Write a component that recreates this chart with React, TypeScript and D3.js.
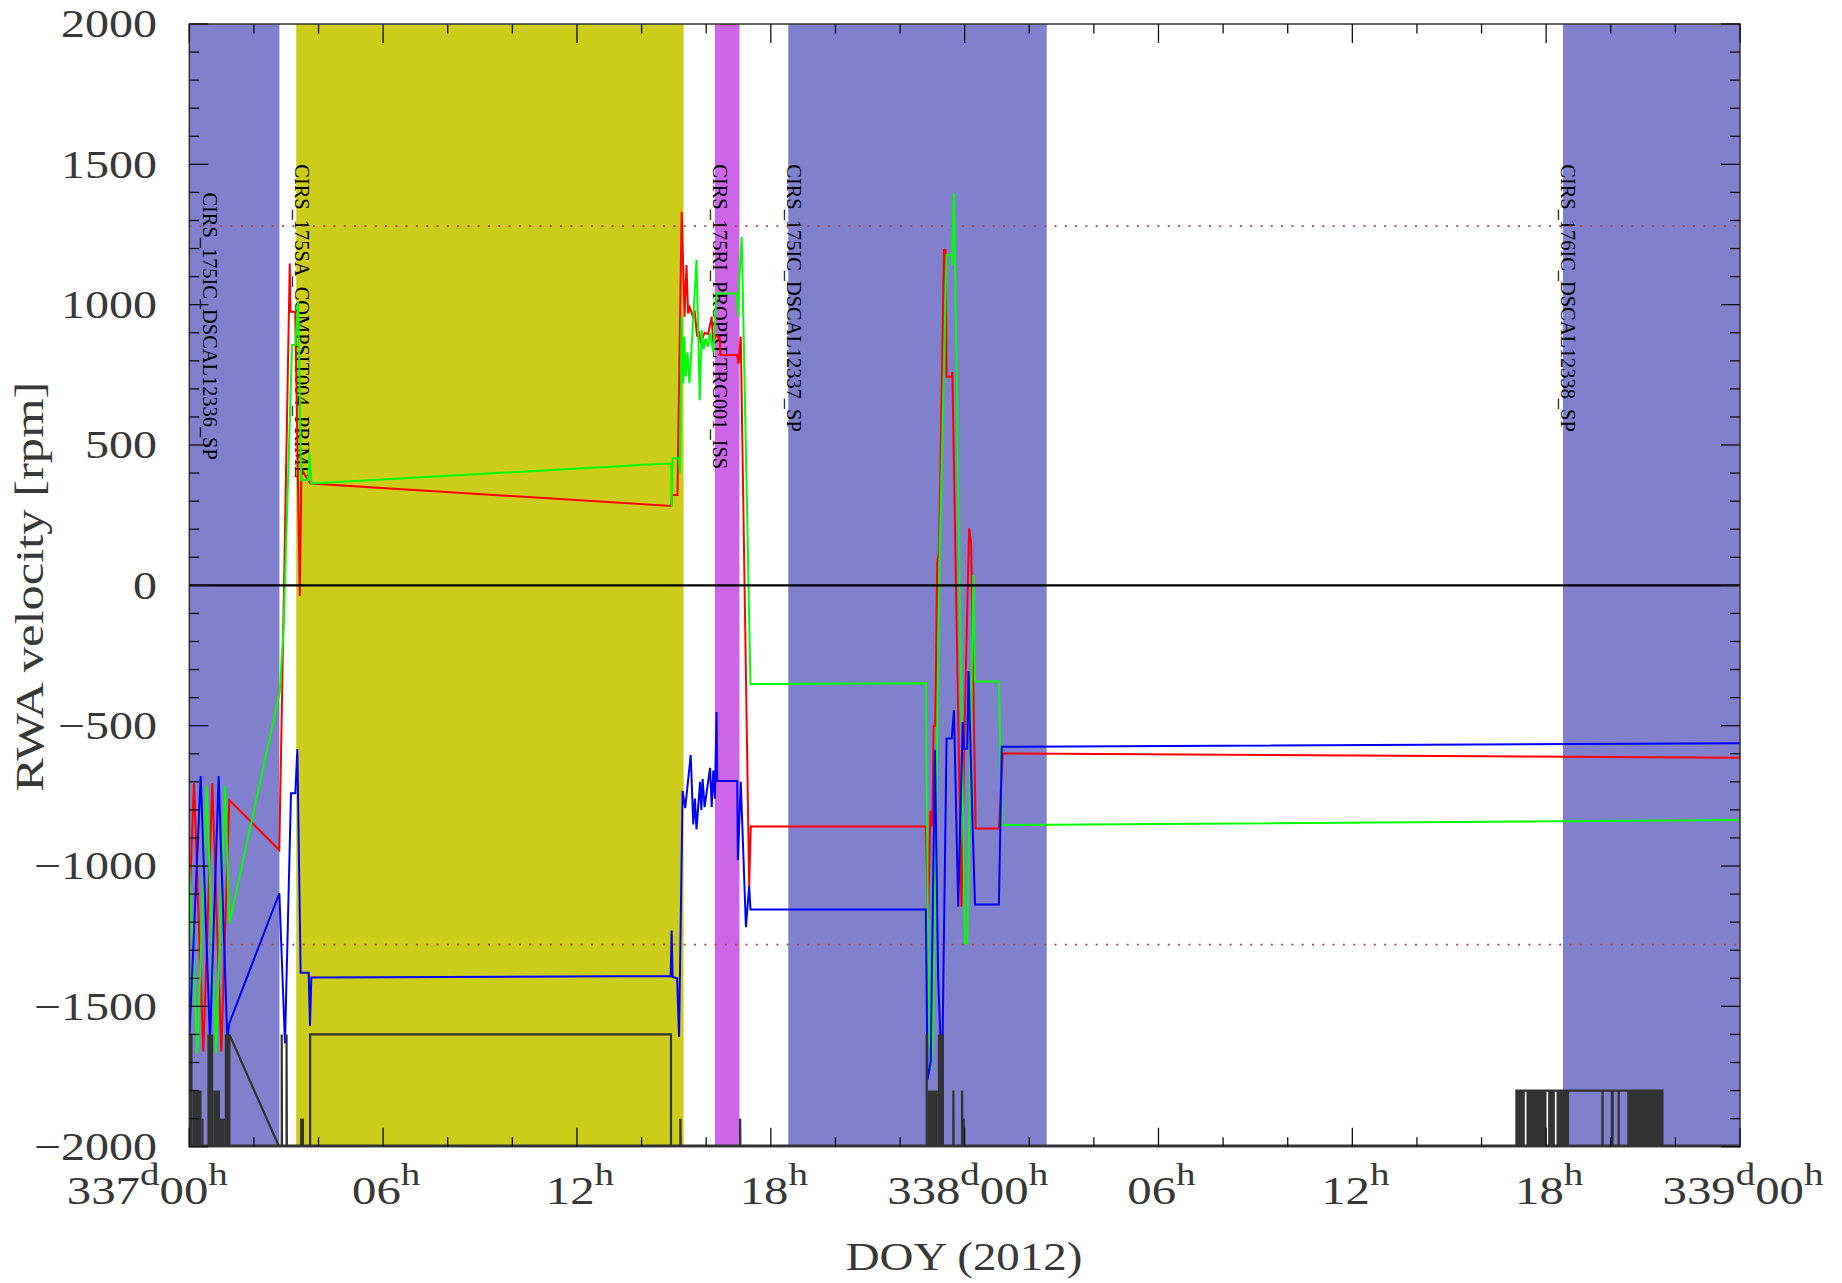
import React from 'react';
import * as d3 from 'd3';

// ---------------- data ----------------
const startDay = 337;
const hourDomain: [number, number] = [0, 48];
const velDomain: [number, number] = [-2000, 2000];
const yTickValues = [2000, 1500, 1000, 500, 0, -500, -1000, -1500, -2000];
const xTickHours = [0, 6, 12, 18, 24, 30, 36, 42, 48];
const limitLines = [1280, -1280];

const activityNames = [
  'CIRS_175IC_DSCAL12336_SP',
  'CIRS_175SA_COMPSIT004_PRIME',
  'CIRS_175RI_PROPRETRG001_ISS',
  'CIRS_175IC_DSCAL12337_SP',
  'CIRS_176IC_DSCAL12338_SP',
];
const activityStart = [-1, 3.31, 16.27, 18.54, 42.52];
const activityEnd = [2.79, 15.3, 17.03, 26.54, 49];
const activityLabelHour = [0.48, 3.31, 16.27, 18.54, 42.52];
const activityLabelVel = [1400, 1500, 1500, 1500, 1500];

const rwaRed: [number, number][] = [
  [0, -1150], [0.145, -705], [0.433, -1662], [0.712, -705], [0.99, -1662], [1.238, -765],
  [2.786, -943], [3.11, 1147], [3.13, 975], [3.28, 975], [3.42, -38], [3.47, 410], [3.55, 400],
  [3.62, 385], [3.75, 363], [14.92, 283], [14.94, 322], [15.11, 322], [15.24, 1331], [15.33, 957],
  [15.39, 1141], [15.44, 969], [15.49, 990], [15.58, 960], [15.64, 980], [15.72, 886], [15.78, 905],
  [15.83, 862], [15.95, 900], [16.06, 895], [16.17, 957], [16.21, 874], [16.31, 890], [16.42, 880],
  [16.44, 821], [16.96, 821], [17.0, 790], [17.07, 886], [17.33, -1071], [17.38, -859], [22.8, -859],
  [22.87, -1190], [22.94, -803], [23.0, -860], [23.04, -500], [23.09, -500], [23.15, 79], [23.21, 126],
  [23.36, 1195], [23.41, 1195], [23.44, 743], [23.6, 743], [23.62, 760], [23.9, -1145], [24.0, -492],
  [24.14, 203], [24.2, 150], [24.34, -866], [25.06, -866], [25.18, -599], [48, -614],
];

const rwaGreen: [number, number][] = [
  [0, -1000], [0.248, -1667], [0.538, -715], [0.826, -1667], [1.105, -715], [1.24, -1204],
  [2.8, -380], [2.92, -150], [3.18, 856], [3.28, 856], [3.37, 1011], [3.46, 375], [3.68, 375],
  [3.72, 470], [3.78, 363], [14.92, 435], [14.93, 280], [14.96, 453], [15.15, 453], [15.19, 399],
  [15.24, 957], [15.29, 720], [15.32, 886], [15.37, 743], [15.42, 830], [15.48, 720], [15.55, 850],
  [15.7, 1159], [15.8, 660], [15.86, 909], [15.92, 840], [15.98, 880], [16.05, 850], [16.12, 900],
  [16.22, 830], [16.32, 1040], [16.94, 1040], [16.99, 957], [17.02, 1080], [17.1, 1242], [17.37, -352],
  [22.8, -349], [22.87, -1300], [22.95, -1727], [23.02, -1600], [23.23, 126], [23.44, 1177],
  [23.6, 1177], [23.61, 1141], [23.67, 1397], [23.83, 126], [24.01, -1275], [24.08, -1275],
  [24.27, 37], [24.32, -343], [25.06, -343], [25.15, -854], [48, -836],
];

const rwaBlue: [number, number][] = [
  [0, -1620], [0.352, -679], [0.641, -1620], [0.909, -679], [1.177, -1620], [1.239, -1560],
  [2.787, -1097], [2.962, -1632], [3.148, -741], [3.282, -741], [3.344, -584], [3.447, -1380],
  [3.695, -1380], [3.736, -1570], [3.777, -1397], [14.9, -1392], [14.93, -1230], [14.96, -1395],
  [15.1, -1400], [15.16, -1608], [15.27, -732], [15.35, -794], [15.52, -605], [15.6, -852],
  [15.65, -760], [15.7, -870], [15.81, -700], [15.85, -800], [15.89, -690], [15.95, -790],
  [16.12, -650], [16.17, -790], [16.22, -660], [16.27, -760], [16.32, -451], [16.34, -697],
  [16.96, -697], [16.98, -979], [17.07, -700], [17.23, -1218], [17.33, -1071], [17.37, -1155],
  [22.8, -1155], [22.85, -1762], [22.95, -1700], [23.08, -587], [23.18, -1400], [23.3, -1762],
  [23.44, -546], [23.6, -546], [23.67, -445], [23.8, -1145], [23.94, -487], [23.98, -582],
  [24.08, -582], [24.12, -306], [24.23, -788], [24.32, -1137], [25.06, -1137], [25.15, -575],
  [48, -563],
];

// dark "mode" trace near the bottom
const modeTrace: [number, number][] = [
  [1.24, -2000], [1.24, -1600], [2.78, -2000], [2.86, -2000], [2.86, -1600], [2.87, -2000],
  [3.01, -2000], [3.01, -1600], [3.02, -2000], [3.74, -2000], [3.74, -1600], [14.91, -1600],
  [14.91, -2000], [15.2, -2000], [15.2, -1900], [15.21, -2000], [17.05, -2000], [17.05, -1900],
  [17.06, -2000], [23.65, -2000], [23.65, -1800], [23.66, -2000], [23.92, -2000], [23.92, -1800],
  [23.93, -2000], [23.97, -2000], [23.97, -1900], [23.98, -2000], [41.08, -2000], [41.08, -1800],
  [45.6, -1800], [45.6, -2000], [48, -2000],
];
// dense toggling intervals of the same trace: [from, to, level]
const modeBursts: [number, number, number][] = [
  [0.0, 0.1, -1600], [0.1, 0.38, -1800], [0.38, 0.44, -1900], [0.56, 0.74, -1600],
  [0.74, 0.95, -1800], [0.95, 1.1, -1900], [1.1, 1.26, -1600], [3.43, 3.55, -1900],
  [22.79, 22.86, -1600], [22.86, 23.17, -1800], [23.17, 23.36, -1600],
  [41.08, 41.34, -1800], [41.39, 42.01, -1800], [42.06, 42.27, -1800], [42.32, 42.71, -1800],
  [43.71, 43.78, -1800], [44.0, 44.09, -1800], [44.21, 44.28, -1800], [44.51, 45.6, -1800],
];

// ---------------- layout / style ----------------
const W = 1842;
const H = 1283;
const X0 = 189.3;
const X1 = 1740;
const Y0 = 1146.7;
const Y1 = 24;
const SERIF = "'Liberation Serif', 'Times New Roman', serif";
const TEXT = '#383838';
const typeColor: Record<string, string> = { IC: '#8080cc', SA: '#cccc1a', RI: '#cc66e6' };

export default function App() {
  const x = d3.scaleLinear().domain(hourDomain).range([X0, X1]);
  const y = d3.scaleLinear().domain(velDomain).range([Y0, Y1]);
  const line = d3
    .line<[number, number]>()
    .x((d) => x(d[0]))
    .y((d) => y(d[1]));

  const yMinor = d3.range(-2000, 2001, 100);
  const xMinor = d3.range(0, 49, 2);

  const kind = (name: string) => name.split('_')[1].replace(/[0-9]/g, '');

  return (
    <svg
      width={W}
      height={H}
      style={{ position: 'absolute', left: 0, top: 0, background: '#fff' }}
    >
      <defs>
        <clipPath id="plotclip">
          <rect x={X0} y={Y1} width={X1 - X0} height={Y0 - Y1} />
        </clipPath>
      </defs>

      <g clipPath="url(#plotclip)">
        {activityNames.map((n, i) => (
          <rect
            key={n}
            x={x(activityStart[i])}
            y={Y1}
            width={x(activityEnd[i]) - x(activityStart[i])}
            height={Y0 - Y1}
            fill={typeColor[kind(n)]}
          />
        ))}
        {activityNames.map((n, i) => (
          <text
            key={'l' + n}
            transform={`translate(${x(activityLabelHour[i]) - 1.5},${y(activityLabelVel[i])}) rotate(90)`}
            fontFamily={SERIF}
            fontSize={20.4}
            fill="#000"
          >
            {n}
          </text>
        ))}
        {limitLines.map((v) => (
          <line
            key={v}
            x1={X0}
            x2={X1}
            y1={y(v)}
            y2={y(v)}
            stroke="#b04848"
            strokeWidth={1.6}
            strokeDasharray="2 8.3"
          />
        ))}
        <path d={line(rwaRed) ?? ''} fill="none" stroke="#ff0000" strokeWidth={2} />
        <path d={line(rwaGreen) ?? ''} fill="none" stroke="#00ff00" strokeWidth={2} />
        <path d={line(rwaBlue) ?? ''} fill="none" stroke="#0000ff" strokeWidth={2} />
        <line x1={X0} x2={X1} y1={y(0)} y2={y(0)} stroke="#000" strokeWidth={2.2} />
        {modeBursts.map((b, i) => (
          <rect
            key={'b' + i}
            x={x(b[0])}
            y={y(b[2])}
            width={x(b[1]) - x(b[0])}
            height={y(-2000) - y(b[2])}
            fill="#333"
          />
        ))}
        <path d={line(modeTrace) ?? ''} fill="none" stroke="#333" strokeWidth={2.2} />
        <line x1={X0} x2={X1} y1={Y0 - 1} y2={Y0 - 1} stroke="#333" strokeWidth={2.2} />
      </g>

      {/* frame */}
      <rect x={X0} y={Y1} width={X1 - X0} height={Y0 - Y1} fill="none" stroke="#333" strokeWidth={1.5} />
      {yMinor.map((v) => {
        const len = v % 500 === 0 ? 19 : 10;
        return (
          <g key={'yt' + v} stroke="#111" strokeWidth={1.3}>
            <line x1={X0} x2={X0 + len} y1={y(v)} y2={y(v)} />
            <line x1={X1} x2={X1 - len} y1={y(v)} y2={y(v)} />
          </g>
        );
      })}
      {xMinor.map((h) => {
        const len = h % 6 === 0 ? 19 : 9.5;
        return (
          <g key={'xt' + h} stroke="#111" strokeWidth={1.3}>
            <line x1={x(h)} x2={x(h)} y1={Y0} y2={Y0 - len} />
            <line x1={x(h)} x2={x(h)} y1={Y1} y2={Y1 + len} />
          </g>
        );
      })}

      {/* y tick labels */}
      {yTickValues.map((v) => (
        <g key={'yl' + v} transform={`translate(157,${y(v) + 13.4}) scale(1.2,1)`}>
          <text textAnchor="end" fontFamily={SERIF} fontSize={40} fill={TEXT}>
            {v < 0 ? '\u2212' + Math.abs(v) : String(v)}
          </text>
        </g>
      ))}

      {/* x tick labels */}
      {xTickHours.map((h, i) => {
        const hh = h % 24;
        const day = startDay + Math.floor(h / 24);
        const hs = String(hh).padStart(2, '0');
        const cx = x(h) + (i === 0 ? -42 : 3);
        return (
          <g key={'xl' + h} transform={`translate(${cx},1204) scale(1.22,1)`}>
            <text textAnchor="middle" fontFamily={SERIF} fontSize={40} fill={TEXT}>
              {hh === 0 ? <tspan>{day}</tspan> : null}
              {hh === 0 ? (
                <tspan fontSize={32} dy={-19}>
                  d
                </tspan>
              ) : null}
              <tspan dy={hh === 0 ? 19 : 0}>{hs}</tspan>
              <tspan fontSize={32} dy={-19}>
                h
              </tspan>
            </text>
          </g>
        );
      })}

      {/* axis titles */}
      <text
        x={964}
        y={1270}
        textAnchor="middle"
        fontFamily={SERIF}
        fontSize={40}
        textLength={236.7}
        lengthAdjust="spacingAndGlyphs"
        fill={TEXT}
      >
        DOY (2012)
      </text>
      <text
        transform={`translate(43.3,586.7) rotate(-90)`}
        textAnchor="middle"
        fontFamily={SERIF}
        fontSize={40}
        textLength={410}
        lengthAdjust="spacingAndGlyphs"
        fill={TEXT}
      >
        RWA velocity [rpm]
      </text>
    </svg>
  );
}
